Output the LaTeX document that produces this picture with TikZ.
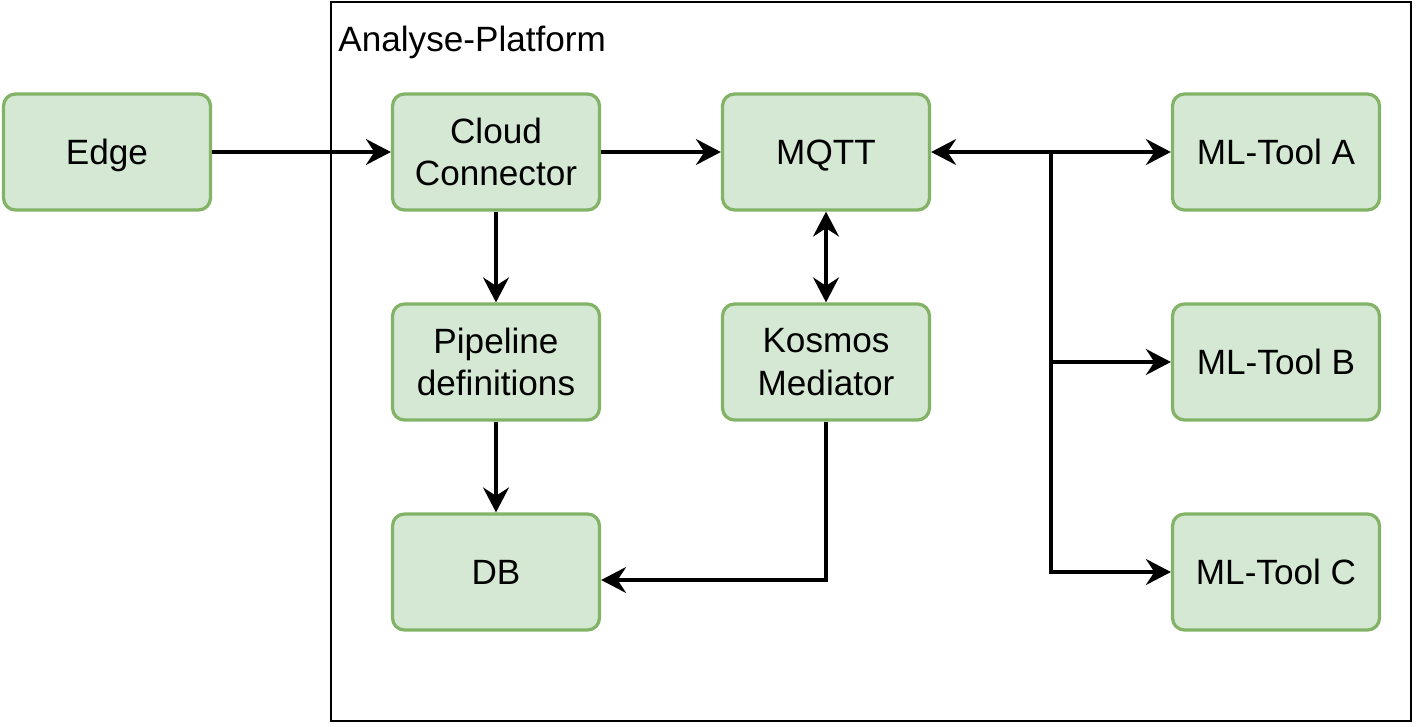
\documentclass[tikz,border=0pt]{standalone}
\usepackage{fontspec}
\setmainfont{Liberation Sans}
\definecolor{boxfill}{HTML}{D5E8D4}
\definecolor{boxline}{HTML}{82B366}
\usetikzlibrary{%
    positioning,
    arrows.meta,
    calc,
}
\tikzset{%
    base/.style = {
        minimum width=4.14cm,
        minimum height=2.32cm,
        text centered,
        align=center,
        font=\fontsize{20}{24}\selectfont,
        line width=0.065cm,
    },
    block/.style = {
        base,
        rectangle,
        rounded corners=0.24cm,
        draw=boxline,
        fill=boxfill,
    },
    oneline/.style = {
        block,
        text height=14.3pt,
        text depth=0pt,
    },
    link/.style = {
        line width=0.065cm,
        -{Stealth[length=0.5cm, width=0.52cm, inset=0.17cm]},
    },
    duplex/.style = {
        line width=0.065cm,
        {Stealth[length=0.5cm, width=0.52cm, inset=0.17cm]}-{Stealth[length=0.5cm, width=0.52cm, inset=0.17cm]},
    },
    frame/.style = {
        line width=0.05cm,
        draw=black,
    },
}

\begin{document}
\begin{tikzpicture}[node distance=4.2cm and 6.6cm, on grid]
    \useasboundingbox (0,0) rectangle (28.32,-14.52);

    % platform frame
    \draw [frame] (6.62,-0.04) rectangle (28.22,-14.42);
    \node [anchor=west, font=\fontsize{20}{24}\selectfont, inner sep=0pt] (platlabel) at (6.76,-0.84) {Analyse-Platform};

    \node [oneline] (edge) at (2.14,-3.04) {Edge};
    \node [block, right=7.78cm of edge] (cloud) {Cloud\\Connector};
    \node [oneline, right=of cloud] (mqtt) {MQTT};
    \node [oneline, right=9cm of mqtt] (mltoola) {ML-Tool A};
    \node [block, below=of cloud] (pipeline) {Pipeline\\definitions};
    \node [oneline, below=of pipeline] (db) {DB};
    \node [block, below=of mqtt] (kosmos) {Kosmos\\Mediator};
    \node [oneline, below=of mltoola] (mltoolb) {ML-Tool B};
    \node [oneline, below=of mltoolb] (mltoolc) {ML-Tool C};

    \coordinate (fork) at ($(mqtt.east)!0.5!(mltoola.west)$);

    \draw [link] (edge) -- (cloud);
    \draw [link] (cloud) -- (mqtt);
    \draw [link] (cloud) -- (pipeline);
    \draw [link] (pipeline) -- (db);
    \draw [duplex] (mqtt) -- (kosmos);
    \draw [duplex] (mqtt) -- (mltoola);
    \draw [link] (fork) |- (mltoolb);
    \draw [link] (fork) |- (mltoolc);
    \draw [link] (kosmos.south) |- ([yshift=-0.16cm]db.east);

\end{tikzpicture}
\end{document}
